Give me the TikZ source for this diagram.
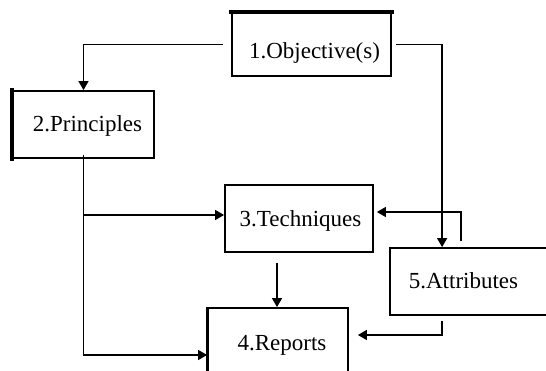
\documentclass[tikz,border=0pt]{standalone}
\usepackage{fontspec}
\setmainfont{Liberation Serif}
\usetikzlibrary{arrows.meta,calc}
\begin{document}
\begin{tikzpicture}[x=1pt,y=-1pt,
  box/.style={draw=black,line width=1.8pt,inner sep=0pt,fill=none},
  lbl/.style={anchor=base,inner sep=0pt,font=\fontsize{23}{26}\selectfont},
  conn/.style={draw=black,line width=1.4pt,-{Triangle[length=9pt,width=10pt]}},
  thickedge/.style={line width=3.8pt,line cap=rect}]
\clip (0,0) rectangle (546,371);
\fill[white] (0,0) rectangle (546,371);
% boxes
\node[box,minimum width=159pt,minimum height=63pt] (obj) at (311.5,44.5) {};
\node[box,minimum width=141pt,minimum height=67pt] (pri) at (83.5,124.5) {};
\node[box,minimum width=148pt,minimum height=67pt] (tec) at (299,218.5) {};
\node[box,minimum width=162pt,minimum height=67pt] (att) at (471,281.5) {};
\node[box,minimum width=140pt,minimum height=70pt] (rep) at (278,343) {};
\draw[thickedge] (obj.north west) -- (obj.north east);
\draw[thickedge] (pri.north west) -- (pri.south west);
\draw[line width=2.6pt] (rep.north west) -- (rep.south west);
% labels
\node[lbl] (objt) at (314.5,59) {1.Objective(s)};
\node[lbl] (prit) at (87.5,132) {2.Principles};
\node[lbl] (tect) at (300.5,227) {3.Techniques};
\node[lbl] (attt) at (463.5,288) {5.Attributes};
\node[lbl] (rept) at (282,350) {4.Reports};
% connectors
\draw[conn,shorten <=8pt] (obj.west) -| (pri.north);
\coordinate (a5) at ($(att.north west)+(53,0)$);
\draw[conn,shorten <=4pt] (obj.east) -| (a5);
\coordinate (p1) at ($(pri.south)+(0,-4)$);
\draw[conn] (p1) |- ($(rep.west)+(0,12)$);
\draw[conn] (p1 |- 0,215) -- ($(tec.west)+(0,-3.5)$);
\coordinate (t1) at ($(tec.south)+(-22,10)$);
\draw[conn] (t1) -- (t1 |- rep.north);
\coordinate (s1) at ($(att.north west)+(72,-6)$);
\draw[conn] (s1) |- ($(tec.east)+(3,-6.5)$);
\coordinate (s2) at ($(att.south west)+(53,5)$);
\draw[conn] (s2) |- ($(rep.east)+(9,-8)$);
\end{tikzpicture}
\end{document}
